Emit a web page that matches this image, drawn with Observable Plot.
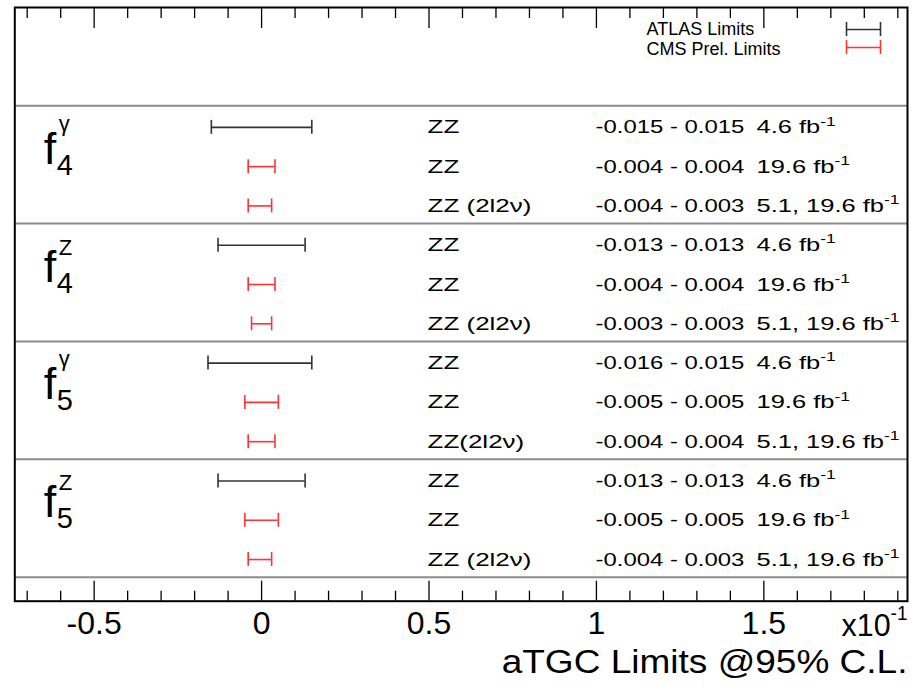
<!DOCTYPE html>
<html><head><meta charset="utf-8">
<script src="https://cdn.jsdelivr.net/npm/d3@7"></script>
<script src="https://cdn.jsdelivr.net/npm/@observablehq/plot@0.6"></script>
<style>html,body{margin:0;padding:0;background:#fff;} #chart svg{display:block;}</style>
</head><body><div id="chart"></div>
<script>
// ---- data ----
const paramBase = ["f", "f", "f", "f"];
const paramSub = ["4", "4", "5", "5"];
const paramSup = ["γ", "Z", "γ", "Z"];
const experiments = ["ATLAS", "CMS", "CMS"];
const channels = [
  ["ZZ", "ZZ", "ZZ (2l2ν)"],
  ["ZZ", "ZZ", "ZZ (2l2ν)"],
  ["ZZ", "ZZ", "ZZ(2l2ν)"],
  ["ZZ", "ZZ", "ZZ (2l2ν)"]
];
const lowerLimits = [
  [-0.015, -0.004, -0.004],
  [-0.013, -0.004, -0.003],
  [-0.016, -0.005, -0.004],
  [-0.013, -0.005, -0.004]
];
const upperLimits = [
  [0.015, 0.004, 0.003],
  [0.013, 0.004, 0.003],
  [0.015, 0.005, 0.004],
  [0.013, 0.005, 0.003]
];
const luminosities = [
  ["4.6", "19.6", "5.1, 19.6"],
  ["4.6", "19.6", "5.1, 19.6"],
  ["4.6", "19.6", "5.1, 19.6"],
  ["4.6", "19.6", "5.1, 19.6"]
];
const lumiUnit = "fb";
const lumiExponent = "-1";
const legendLabels = ["ATLAS Limits", "CMS Prel. Limits"];
const legendExperiments = ["ATLAS", "CMS"];
const experimentColors = ["#333333", "#ff3333"];
const majorTicks = [-0.05, 0, 0.05, 0.1, 0.15];
const majorTickLabels = ["-0.5", "0", "0.5", "1", "1.5"];
const minorTicks = [-0.07, -0.06, -0.04, -0.03, -0.02, -0.01, 0.01, 0.02, 0.03, 0.04,
  0.06, 0.07, 0.08, 0.09, 0.11, 0.12, 0.13, 0.14, 0.16, 0.17, 0.18, 0.19];
const axisMultiplier = "x10";
const axisExponent = "-1";
const axisTitle = "aTGC Limits @95% C.L.";

// ---- layout ----
const W = 920, H = 693;
const mT = 7, mB = 92.3, mL = 14.3, mR = 13;
const xDomain = [-0.0737, 0.1929];
const yDomain = [-2.5, 12.61];
const pxPerX = (W - mL - mR) / (xDomain[1] - xDomain[0]);
const pxPerY = (H - mT - mB) / (yDomain[1] - yDomain[0]);
const xAt = px => xDomain[0] + (px - mL) / pxPerX;
const yAt = px => yDomain[0] + (px - mT) / pxPerY;
const capH = 7 / pxPerY;
const font = "'Liberation Sans', Arial, Helvetica, sans-serif";

const rows = [];
paramBase.forEach((p, g) => experiments.forEach((e, r) => rows.push({
  g, r, experiment: e, channel: channels[g][r],
  lo: lowerLimits[g][r], hi: upperLimits[g][r], lumi: luminosities[g][r]
})));
const rowY = d => 3 * d.g + d.r + 0.55;
const groups = paramBase.map((b, g) => ({g, base: b, sub: paramSub[g], sup: paramSup[g]}));
const separators = [0, 3, 6, 9, 12];
const legend = legendLabels.map((l, i) => ({label: l, experiment: legendExperiments[i], i}));

const chart = Plot.plot({
  width: W, height: H,
  marginTop: mT, marginBottom: mB, marginLeft: mL, marginRight: mR,
  style: {fontFamily: font, background: "#fff", color: "#000"},
  x: {domain: xDomain, label: null},
  y: {domain: yDomain, reverse: true, axis: null},
  color: {domain: legendExperiments, range: experimentColors},
  marks: [
    Plot.ruleY(separators, {y: d => d, stroke: "#8c8c8c", strokeWidth: 2}),
    // error bars
    Plot.ruleY(rows, {y: rowY, x1: "lo", x2: "hi", stroke: "experiment", strokeWidth: 1.6}),
    Plot.ruleX(rows, {x: "lo", y1: d => rowY(d) - capH, y2: d => rowY(d) + capH, stroke: "experiment", strokeWidth: 1.6}),
    Plot.ruleX(rows, {x: "hi", y1: d => rowY(d) - capH, y2: d => rowY(d) + capH, stroke: "experiment", strokeWidth: 1.6}),
    // row texts
    Plot.text(rows, {x: () => xAt(427), y: rowY, text: "channel", textAnchor: "start", lineAnchor: "middle", fontSize: 19, fill: "#000", ariaDescription: "channel"}),
    Plot.text(rows, {x: () => xAt(595), y: rowY, text: d => d.lo.toFixed(3) + " - " + d.hi.toFixed(3), textAnchor: "start", lineAnchor: "middle", fontSize: 19, fill: "#000", ariaDescription: "range"}),
    Plot.text(rows, {x: () => xAt(756), y: rowY, text: d => d.lumi + " " + lumiUnit, textAnchor: "start", lineAnchor: "middle", fontSize: 19, fill: "#000", ariaDescription: "lumi"}),
    // parameter labels
    Plot.text(groups, {frameAnchor: "left", y: d => 3 * d.g, dx: 29, dy: 58, text: "base", textAnchor: "start", lineAnchor: "bottom", fontSize: 45, fill: "#000"}),
    Plot.text(groups, {frameAnchor: "left", y: d => 3 * d.g, dx: 42, dy: 69, text: "sub", textAnchor: "start", lineAnchor: "bottom", fontSize: 29, fill: "#000"}),
    Plot.text(groups, {frameAnchor: "left", y: d => 3 * d.g + (d.sup === "γ" ? 25 : 31) / pxPerY, dx: 44, text: "sup", textAnchor: "start", lineAnchor: "bottom", fontSize: 22, fill: "#000"}),
    // legend
    Plot.ruleY(legend, {y: d => yAt(29 + 18 * d.i), x1: () => xAt(846), x2: () => xAt(880), stroke: "experiment", strokeWidth: 1.6}),
    Plot.ruleX(legend, {x: () => xAt(846), y1: d => yAt(29 + 18 * d.i) - capH, y2: d => yAt(29 + 18 * d.i) + capH, stroke: "experiment", strokeWidth: 1.6}),
    Plot.ruleX(legend, {x: () => xAt(880), y1: d => yAt(29 + 18 * d.i) - capH, y2: d => yAt(29 + 18 * d.i) + capH, stroke: "experiment", strokeWidth: 1.6}),
    Plot.text(legend, {x: () => xAt(646), y: d => yAt(34 + 20 * d.i), text: "label", textAnchor: "start", lineAnchor: "bottom", fontSize: 18, fill: "#000"}),
    // axis ticks (inside, top and bottom)
    Plot.ruleX(minorTicks, {x: d => d, y1: yDomain[1], y2: yDomain[1] - 10 / pxPerY, stroke: "#000", strokeWidth: 1.3}),
    Plot.ruleX(majorTicks, {x: d => d, y1: yDomain[1], y2: yDomain[1] - 20 / pxPerY, stroke: "#000", strokeWidth: 1.3}),
    Plot.ruleX(minorTicks, {x: d => d, y1: yDomain[0], y2: yDomain[0] + 11 / pxPerY, stroke: "#000", strokeWidth: 1.3}),
    Plot.ruleX(majorTicks, {x: d => d, y1: yDomain[0], y2: yDomain[0] + 21 / pxPerY, stroke: "#000", strokeWidth: 1.3}),
    Plot.axisX({ticks: majorTicks, tickFormat: d => majorTickLabels[majorTicks.indexOf(d)], tickSize: 0, tickPadding: 10, fontSize: 32, label: null, fill: "#000"}),
    Plot.text([axisMultiplier], {frameAnchor: "bottom-right", dy: 34.3, text: d => d, textAnchor: "end", lineAnchor: "bottom", fontSize: 32, fill: "#000", ariaDescription: "multiplier"}),
    Plot.text([axisTitle], {frameAnchor: "bottom-right", dy: 71.3, text: d => d, textAnchor: "end", lineAnchor: "bottom", fontSize: 33, fill: "#000", ariaDescription: "title"}),
    Plot.frame({stroke: "#000", strokeWidth: 2})
  ]
});
document.getElementById("chart").appendChild(chart);

// ---- text post-processing: superscripts & horizontal fit ----
function texts(desc) {
  return Array.from(chart.querySelectorAll(`g[aria-description="${desc}"] text`));
}
function addSup(desc, s, size, shift) {
  texts(desc).forEach(t => {
    const ts = document.createElementNS("http://www.w3.org/2000/svg", "tspan");
    ts.setAttribute("font-size", size);
    ts.setAttribute("dy", shift);
    ts.textContent = s;
    t.appendChild(ts);
  });
}
// stretch all texts of a group so that the sample text gets the target width (px)
function fitWidth(desc, sample, target) {
  const nodes = texts(desc);
  if (!nodes.length) return;
  const w = nodes[sample].getComputedTextLength();
  if (!w) return;
  const k = target / w;
  nodes.forEach(t => {
    const tr = t.getAttribute("transform") || "";
    t.setAttribute("transform", tr + ` scale(${k.toFixed(4)},1)`);
  });
}
addSup("lumi", lumiExponent, "13px", "-0.6em");
addSup("multiplier", axisExponent, "20px", "-0.8em");
fitWidth("channel", 2, 104);
fitWidth("range", 0, 149);
fitWidth("lumi", 2, 143);
fitWidth("multiplier", 0, 66);
fitWidth("title", 0, 406);
</script>
</body></html>
